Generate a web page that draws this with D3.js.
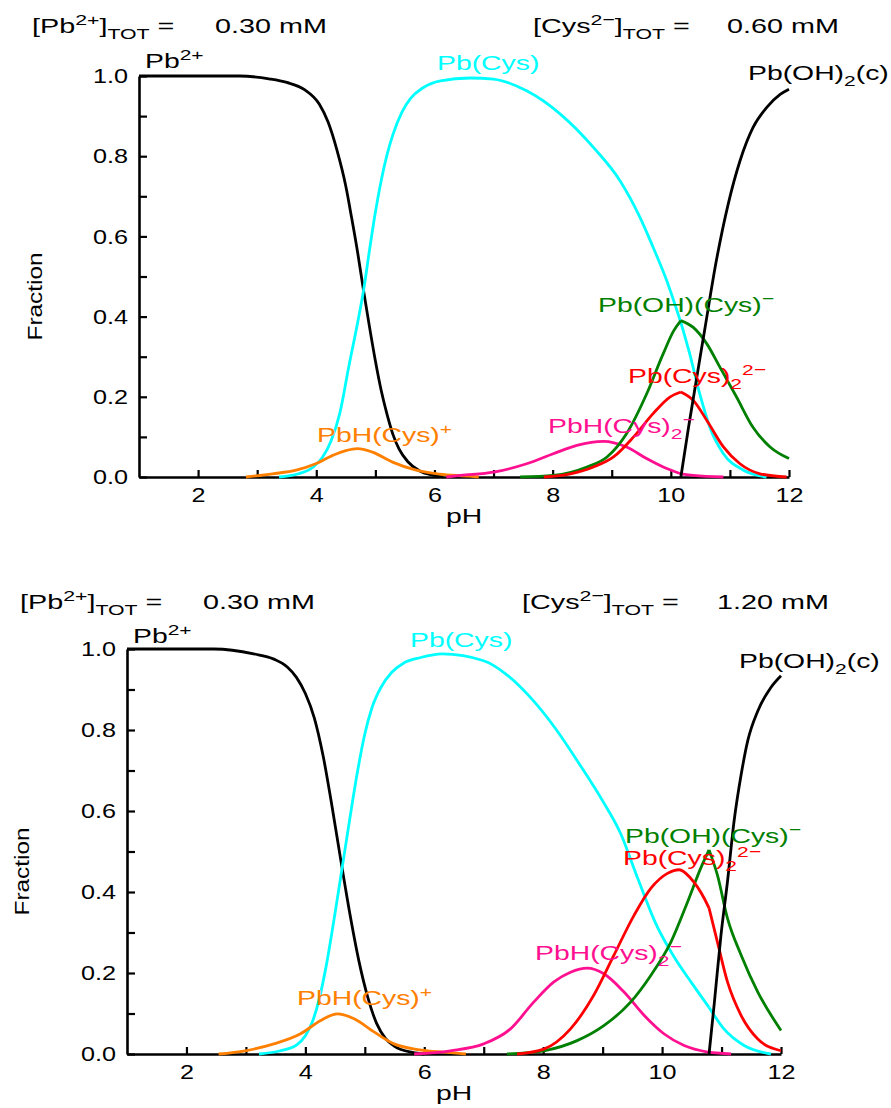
<!DOCTYPE html>
<html>
<head>
<meta charset="utf-8">
<script src="https://cdn.jsdelivr.net/npm/d3@7"></script>
<style>
body { margin: 0; background: #fff; }
text { font-family: "Liberation Sans", Arial, sans-serif; }
</style>
</head>
<body>
<div class="canvas"></div>
<script>
// tick values
const pHTicks = [2, 3, 4, 5, 6, 7, 8, 9, 10, 11, 12];
const fracTicks = [0, 0.1, 0.2, 0.3, 0.4, 0.5, 0.6, 0.7, 0.8, 0.9, 1.0];

// totals shown in the headers (mM)
const pbTot = ["0.30", "0.30"];
const cysTot = ["0.60", "1.20"];

// pH where Pb(OH)2(c) starts to precipitate (curves have a kink there)
const kinkPH = [10.17, 10.79];

// ---- upper panel: [Cys] = 0.60 mM ----
const a_pb = [[1,1],[2.7,1],[3.2,0.993],[3.5,0.984],[3.8,0.966],[4.05,0.93],[4.2,0.885],[4.35,0.815],[4.5,0.725],[4.6,0.645],[4.7,0.56],[4.8,0.465],[4.9,0.375],[5.0,0.29],[5.1,0.215],[5.2,0.155],[5.3,0.105],[5.4,0.07],[5.55,0.038],[5.75,0.015],[6.0,0.004],[6.15,0]];
const a_pbcys = [[3.37,0],[3.7,0.008],[3.95,0.025],[4.1,0.048],[4.25,0.09],[4.4,0.16],[4.55,0.275],[4.7,0.385],[4.8,0.465],[4.9,0.565],[5.0,0.66],[5.1,0.74],[5.2,0.805],[5.3,0.855],[5.45,0.91],[5.6,0.945],[5.8,0.97],[6.1,0.988],[6.6,0.995],[7.0,0.992],[7.56,0.963],[8.13,0.905],[8.69,0.822],[9.14,0.739],[9.48,0.647],[9.70,0.573],[9.93,0.49],[10.17,0.385],[10.32,0.307],[10.49,0.207],[10.66,0.124],[10.89,0.058],[11.23,0.017],[11.62,0]];
const a_pbhcys = [[2.81,0],[3.26,0.008],[3.66,0.017],[3.99,0.033],[4.28,0.054],[4.5,0.066],[4.7,0.071],[4.95,0.062],[5.29,0.037],[5.69,0.017],[6.08,0.007],[6.59,0.002],[6.75,0]];
const a_pbhcys2 = [[6.2,0],[6.44,0.004],[7.0,0.012],[7.56,0.033],[8.01,0.058],[8.41,0.079],[8.86,0.089],[9.25,0.075],[9.59,0.046],[9.93,0.021],[10.17,0.008],[10.38,0.004],[10.89,0]];
const a_pbohcys = [[7.45,0],[8.01,0.004],[8.58,0.025],[8.92,0.05],[9.25,0.108],[9.59,0.207],[9.87,0.307],[10.05,0.365],[10.17,0.39],[10.38,0.373],[10.61,0.332],[10.83,0.274],[11.11,0.2],[11.39,0.124],[11.68,0.075],[12.0,0.046]];
const a_pbcys2 = [[7.85,0],[8.3,0.008],[8.69,0.025],[9.03,0.05],[9.37,0.1],[9.7,0.158],[9.99,0.2],[10.17,0.212],[10.38,0.191],[10.61,0.141],[10.89,0.075],[11.17,0.033],[11.51,0.008],[11.96,0]];
const a_pboh2 = [[10.17,0],[10.30,0.124],[10.58,0.373],[10.77,0.539],[10.97,0.68],[11.17,0.788],[11.39,0.871],[11.62,0.921],[11.85,0.954],[12.0,0.967]];

// ---- lower panel: [Cys] = 1.20 mM ----
const b_pb = [[1,1],[2.46,1],[3.13,0.988],[3.47,0.975],[3.7,0.955],[3.85,0.93],[4.0,0.89],[4.15,0.83],[4.3,0.735],[4.45,0.61],[4.6,0.475],[4.75,0.345],[4.9,0.23],[5.05,0.14],[5.2,0.075],[5.35,0.038],[5.5,0.019],[5.8,0.004],[6.0,0]];
const b_pbcys = [[3.22,0],[3.58,0.008],[3.85,0.022],[4.0,0.045],[4.12,0.08],[4.24,0.14],[4.36,0.225],[4.48,0.33],[4.6,0.442],[4.74,0.574],[4.88,0.7],[5.0,0.79],[5.12,0.855],[5.27,0.905],[5.45,0.942],[5.65,0.965],[5.94,0.979],[6.3,0.988],[7.0,0.971],[7.4,0.935],[7.8,0.878],[8.2,0.805],[8.6,0.718],[9.0,0.625],[9.3,0.545],[9.6,0.43],[9.9,0.32],[10.2,0.24],[10.5,0.175],[10.79,0.115],[11.04,0.062],[11.38,0.021],[11.83,0]];
const b_pbhcys = [[2.54,0],[2.99,0.008],[3.47,0.025],[3.92,0.05],[4.26,0.083],[4.54,0.099],[4.82,0.087],[5.16,0.054],[5.49,0.025],[5.89,0.011],[6.39,0.004],[6.7,0]];
const b_pbhcys2 = [[5.83,0],[6.44,0.008],[7.0,0.025],[7.45,0.062],[7.84,0.128],[8.18,0.178],[8.46,0.202],[8.74,0.212],[9.02,0.198],[9.36,0.153],[9.7,0.095],[10.03,0.05],[10.37,0.021],[10.79,0.004],[11.16,0]];
const b_pbohcys = [[7.39,0],[8.01,0.008],[8.57,0.033],[9.02,0.07],[9.47,0.128],[9.81,0.194],[10.15,0.277],[10.43,0.376],[10.65,0.459],[10.79,0.504],[10.93,0.442],[11.1,0.335],[11.33,0.244],[11.61,0.153],[12.0,0.058]];
const b_pbcys2 = [[7.56,0],[8.01,0.012],[8.46,0.062],[8.85,0.145],[9.19,0.244],[9.53,0.343],[9.81,0.409],[10.09,0.446],[10.29,0.455],[10.48,0.434],[10.71,0.384],[10.79,0.36],[10.93,0.277],[11.1,0.178],[11.33,0.095],[11.61,0.037],[12.0,0.008]];
const b_pboh2 = [[10.79,0],[10.88,0.128],[10.99,0.293],[11.1,0.426],[11.21,0.574],[11.33,0.69],[11.44,0.773],[11.61,0.847],[11.83,0.905],[12.0,0.934]];

const colors = {
    pb: "#000000", pbcys: "#00ffff", pbhcys: "#ff8000", pbhcys2: "#ff1090",
    pbohcys: "#008000", pbcys2: "#ff0000", pboh2: "#000000"
};

const W = 891, H = 1108;
const svg = d3.select(".canvas").append("svg")
    .attr("width", W)
    .attr("height", H);

// write a label made of normal / sup / sub pieces, stretched horizontally
const rich = (g, x, y, parts, o) => {
    const t = g.append("text")
        .attr("transform", `translate(${x},${y}) scale(${o.sx},1)`)
        .attr("font-size", o.size)
        .attr("fill", o.color || "#000")
        .attr("text-anchor", o.anchor || "start");
    let shift = 0;
    parts.forEach(p => {
        const [str, kind] = typeof p === "string" ? [p, "n"] : p;
        const target = kind === "sup" ? -0.40 * o.size : kind === "sub" ? 0.30 * o.size : 0;
        t.append("tspan")
            .attr("dy", target - shift)
            .attr("font-size", kind === "n" ? o.size : o.size * 0.74)
            .text(str);
        shift = target;
    });
    return t;
};

const panels = [
    {
        box: {left: 139, right: 789, top: 76, bottom: 477},
        series: [
            ["pb", a_pb], ["pbcys", a_pbcys], ["pbhcys", a_pbhcys], ["pbhcys2", a_pbhcys2],
            ["pbohcys", a_pbohcys], ["pbcys2", a_pbcys2], ["pboh2", a_pboh2]
        ],
        header: {y: 33, x1: 32, v1: 215, x2: 533, v2: 727},
        fracX: 42,
        labels: {
            pb: [145, 68], pbcys: [437, 70], pboh2: [748, 80], pbohcys: [598, 312],
            pbcys2: [628, 383], pbhcys2: [548, 433], pbhcys: [317, 442]
        }
    },
    {
        box: {left: 127, right: 781, top: 649, bottom: 1054},
        series: [
            ["pb", b_pb], ["pbcys", b_pbcys], ["pbhcys", b_pbhcys], ["pbhcys2", b_pbhcys2],
            ["pbohcys", b_pbohcys], ["pbcys2", b_pbcys2], ["pboh2", b_pboh2]
        ],
        header: {y: 609, x1: 20, v1: 203, x2: 522, v2: 717},
        fracX: 29,
        labels: {
            pb: [133, 643], pbcys: [410, 647], pboh2: [739, 668], pbohcys: [625, 843],
            pbcys2: [623, 865], pbhcys2: [535, 960], pbhcys: [297, 1005]
        }
    }
];

const labelParts = {
    pb: ["Pb", ["2+", "sup"]],
    pbcys: ["Pb(Cys)"],
    pboh2: ["Pb(OH)", ["2", "sub"], "(c)"],
    pbohcys: ["Pb(OH)(Cys)", ["\u2212", "sup"]],
    pbcys2: ["Pb(Cys)", ["2", "sub"], ["2\u2212", "sup"]],
    pbhcys2: ["PbH(Cys)", ["2", "sub"], ["\u2212", "sup"]],
    pbhcys: ["PbH(Cys)", ["+", "sup"]]
};

panels.forEach((p, i) => {
    const b = p.box;
    const g = svg.append("g");

    const x = d3.scaleLinear().domain([1, 12]).range([b.left, b.right]);
    const y = d3.scaleLinear().domain([0, 1]).range([b.bottom, b.top]);

    // axes (ticks point inwards)
    const xAxis = g.append("g")
        .attr("transform", `translate(0,${b.bottom})`)
        .call(d3.axisBottom(x).tickValues(pHTicks).tickSizeInner(-7).tickSizeOuter(0)
            .tickPadding(10).tickFormat(d => d % 2 === 0 ? d : ""));
    const yAxis = g.append("g")
        .attr("transform", `translate(${b.left},0)`)
        .call(d3.axisLeft(y).tickValues(fracTicks).tickSizeInner(-8).tickSizeOuter(0)
            .tickPadding(11).tickFormat(d => Math.round(d * 10) % 2 === 0 ? d3.format(".1f")(d) : ""));

    [xAxis, yAxis].forEach(ax => {
        ax.select(".domain").attr("stroke", "#000").attr("stroke-width", 2.6);
        ax.selectAll(".tick line").attr("stroke", "#000").attr("stroke-width", 2.2);
        ax.selectAll("text").attr("font-size", 21).attr("fill", "#000")
            .attr("font-family", "Liberation Sans, Arial, sans-serif");
    });
    xAxis.selectAll("text").attr("transform", "scale(1.2,1)");
    yAxis.selectAll("text").attr("transform", "scale(1.2,1)").attr("x", -11 / 1.2);

    // curves, split at the precipitation kink
    const line = d3.line()
        .x(d => x(d[0]))
        .y(d => y(d[1]))
        .curve(d3.curveMonotoneX);
    const pk = kinkPH[i];
    p.series.forEach(([key, pts]) => {
        const segs = [pts.filter(d => d[0] <= pk), pts.filter(d => d[0] >= pk)]
            .filter(s => s.length > 1);
        segs.forEach(s => {
            g.append("path")
                .attr("fill", "none")
                .attr("stroke", colors[key])
                .attr("stroke-width", 2.8)
                .attr("stroke-linejoin", "round")
                .attr("d", line(s));
        });
    });

    // species labels
    Object.keys(labelParts).forEach(key => {
        const [lx, ly] = p.labels[key];
        rich(g, lx, ly, labelParts[key], {size: 21, sx: 1.35, color: colors[key]});
    });

    // headers
    const h = p.header;
    rich(g, h.x1, h.y, ["[Pb", ["2+", "sup"], "]", ["TOT", "sub"], " ="], {size: 21, sx: 1.37});
    rich(g, h.v1, h.y, [pbTot[i] + " mM"], {size: 21, sx: 1.37});
    rich(g, h.x2, h.y, ["[Cys", ["2\u2212", "sup"], "]", ["TOT", "sub"], " ="], {size: 21, sx: 1.37});
    rich(g, h.v2, h.y, [cysTot[i] + " mM"], {size: 21, sx: 1.37});

    // axis titles
    g.append("text")
        .attr("transform", `translate(${(b.left + b.right) / 2},${b.bottom + 46}) scale(1.35,1)`)
        .attr("text-anchor", "middle")
        .attr("font-size", 21)
        .text("pH");
    g.append("text")
        .attr("transform", `translate(${p.fracX},${(b.top + b.bottom) / 2 + 20}) rotate(-90) scale(1.16,1)`)
        .attr("text-anchor", "middle")
        .attr("font-size", 21)
        .text("Fraction");
});
</script>
</body>
</html>
